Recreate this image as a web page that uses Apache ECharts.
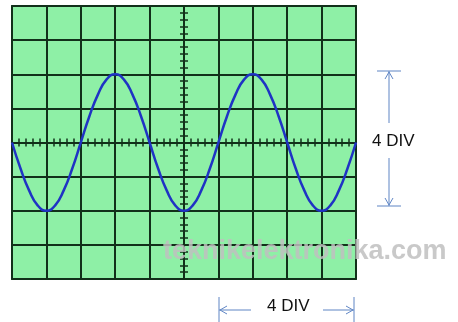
<!DOCTYPE html>
<html>
<head>
<meta charset="utf-8">
<title>oscilloscope</title>
<style>
html,body{margin:0;padding:0;background:#fff;}
#main{width:458px;height:322px;}
</style>
</head>
<body>
<div id="main"></div>
<script src="https://cdn.jsdelivr.net/npm/echarts@6/dist/echarts.min.js"></script>
<script>
// horizontal position in divisions (0 = screen centre), quarter-div steps
var divX = [-5, -4.75, -4.5, -4.25, -4, -3.75, -3.5, -3.25, -3, -2.75, -2.5, -2.25, -2, -1.75, -1.5, -1.25, -1, -0.75, -0.5, -0.25,
	0, 0.25, 0.5, 0.75, 1, 1.25, 1.5, 1.75, 2, 2.25, 2.5, 2.75, 3, 3.25, 3.5, 3.75, 4, 4.25, 4.5, 4.75, 5];
// trace height in divisions
var divY = [0, -0.77, -1.41, -1.85, -2, -1.85, -1.41, -0.77, 0, 0.77, 1.41, 1.85, 2, 1.85, 1.41, 0.77, 0, -0.77, -1.41, -1.85,
	-2, -1.85, -1.41, -0.77, 0, 0.77, 1.41, 1.85, 2, 1.85, 1.41, 0.77, 0, -0.77, -1.41, -1.85, -2, -1.85, -1.41, -0.77, 0];
var xRange = [-5, 5];
var yRange = [-4, 4];
var labelText = '4 DIV';
var watermark = 'teknikelektronika.com';

var gridColor = '#12301a';
var arrowColor = '#5f85c4';

function axis(pos, range, showSplit) {
	return {
		type: 'value',
		position: pos,
		min: range[0],
		max: range[1],
		interval: 1,
		axisLine: {show: true, onZero: true, lineStyle: {color: gridColor, width: 2}},
		axisTick: {show: true, inside: false, length: 4, lineStyle: {color: gridColor, width: 1.5}},
		minorTick: {show: true, splitNumber: 5, length: 4, lineStyle: {color: gridColor, width: 1.5}},
		axisLabel: {show: false},
		splitLine: {show: showSplit, lineStyle: {color: gridColor, width: 2}}
	};
}

var pts = [];
for (var i = 0; i < divX.length; i++) pts.push([divX[i], divY[i]]);

var txtFont = '"Liberation Sans", Arial, sans-serif';

var option = {
	animation: false,
	grid: {
		left: 12, top: 6, width: 344, height: 273,
		show: true,
		backgroundColor: '#8ef0a6',
		borderColor: '#1f3d2a',
		borderWidth: 2
	},
	xAxis: [axis('bottom', xRange, true), axis('top', xRange, false)],
	yAxis: [axis('left', yRange, true), axis('right', yRange, false)],
	series: [{
		type: 'line',
		data: pts,
		smooth: true,
		showSymbol: false,
		lineStyle: {color: '#1f33c4', width: 2.5}
	}],
	graphic: [
		// vertical 4 DIV marker
		{type: 'line', shape: {x1: 377, y1: 71, x2: 401, y2: 71}, style: {stroke: arrowColor, lineWidth: 1}},
		{type: 'line', shape: {x1: 389, y1: 71, x2: 389, y2: 123}, style: {stroke: arrowColor, lineWidth: 1}},
		{type: 'polyline', shape: {points: [[385, 79], [389, 72], [393, 79]]}, style: {stroke: arrowColor, lineWidth: 1, fill: null}},
		{type: 'line', shape: {x1: 389, y1: 158, x2: 389, y2: 206}, style: {stroke: arrowColor, lineWidth: 1}},
		{type: 'polyline', shape: {points: [[385, 198], [389, 205], [393, 198]]}, style: {stroke: arrowColor, lineWidth: 1, fill: null}},
		{type: 'line', shape: {x1: 377, y1: 206, x2: 401, y2: 206}, style: {stroke: arrowColor, lineWidth: 1}},
		{type: 'text', left: 372, top: 133, style: {text: labelText, fill: '#111', font: '17px ' + txtFont}},
		// horizontal 4 DIV marker
		{type: 'line', shape: {x1: 219, y1: 297, x2: 219, y2: 322}, style: {stroke: arrowColor, lineWidth: 1}},
		{type: 'line', shape: {x1: 219, y1: 310, x2: 251, y2: 310}, style: {stroke: arrowColor, lineWidth: 1}},
		{type: 'polyline', shape: {points: [[227, 306], [220, 310], [227, 314]]}, style: {stroke: arrowColor, lineWidth: 1, fill: null}},
		{type: 'line', shape: {x1: 323, y1: 310, x2: 354, y2: 310}, style: {stroke: arrowColor, lineWidth: 1}},
		{type: 'polyline', shape: {points: [[346, 306], [353, 310], [346, 314]]}, style: {stroke: arrowColor, lineWidth: 1, fill: null}},
		{type: 'line', shape: {x1: 354, y1: 297, x2: 354, y2: 322}, style: {stroke: arrowColor, lineWidth: 1}},
		{type: 'text', left: 267, top: 298, style: {text: labelText, fill: '#111', font: '17px ' + txtFont}},
		// watermark
		{type: 'text', left: 163, top: 238, z: 100, style: {text: watermark, fill: 'rgba(192,192,192,0.85)', font: 'bold 27px ' + txtFont}}
	]
};

var myChart = echarts.init(document.getElementById('main'));
myChart.setOption(option);
</script>
</body>
</html>
